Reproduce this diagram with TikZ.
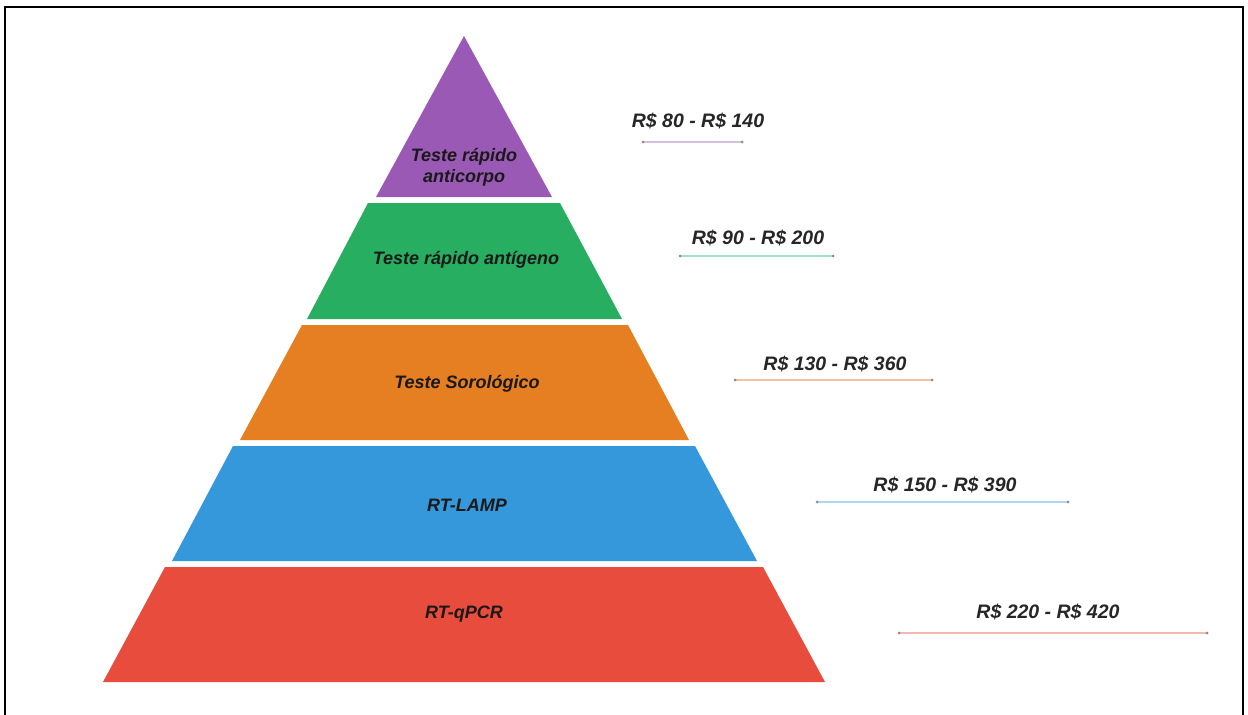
\documentclass[tikz,border=0pt]{standalone}
\usepackage{fontspec}
\setmainfont{Liberation Sans}
\usetikzlibrary{positioning}

\definecolor{tpurple}{HTML}{9B59B6}
\definecolor{tgreen}{HTML}{27AE60}
\definecolor{torange}{HTML}{E67E22}
\definecolor{tblue}{HTML}{3498DB}
\definecolor{tred}{HTML}{E74C3C}

\begin{document}
\begin{tikzpicture}[x=1pt, y=-1pt,
    tier/.style={
    font=\bfseries\itshape\fontsize{18}{20.5}\selectfont,
    text=black!90,
    align=center,
    anchor=base,
    inner sep=0pt},
    price/.style={
    font=\bfseries\itshape\fontsize{19.5}{22}\selectfont,
    text=black!85,
    anchor=base,
    inner sep=0pt},
    pricebar/.style={line width=1.8pt},
    bartip/.style={circle, fill=black!45, inner sep=0pt, minimum size=3pt}]

    \useasboundingbox (0,0) rectangle (1248,715);
    \fill[white] (0,0) rectangle (1248,715);
    \draw[line width=2pt] (5,716) -- (5,7) -- (1243,7) -- (1243,716);

    % pyramid bands
    \fill[tpurple] (464,36) -- (552,197) -- (376,197) -- cycle;
    \fill[tgreen] (368,203) -- (560,203) -- (622,319) -- (307,319) -- cycle;
    \fill[torange] (302,325) -- (628,325) -- (689,440) -- (240,440) -- cycle;
    \fill[tblue] (233,446) -- (695,446) -- (757,561) -- (172,561) -- cycle;
    \fill[tred] (165,567) -- (763,567) -- (825,682) -- (103,682) -- cycle;

    \node[tier] (anticorpo) at (464,182) {Teste rápido\\anticorpo};
    \node[tier] (antigeno) at (466,264) {Teste rápido antígeno};
    \node[tier] (sorologico) at (467,388) {Teste Sorológico};
    \node[tier] (lamp) at (467,511) {RT-LAMP};
    \node[tier] (qpcr) at (464,618) {RT-qPCR};

    % price ranges
    \coordinate (a1) at (643,142);
    \coordinate (a2) at (742,142);
    \coordinate (b1) at (680,256);
    \coordinate (b2) at (833,256);
    \coordinate (c1) at (735,380);
    \coordinate (c2) at (932,380);
    \coordinate (d1) at (817,502);
    \coordinate (d2) at (1068,502);
    \coordinate (e1) at (899,633);
    \coordinate (e2) at (1207,633);

    \draw[pricebar, tpurple!40] (a1) -- (a2);
    \draw[pricebar, tgreen!40] (b1) -- (b2);
    \draw[pricebar, torange!45] (c1) -- (c2);
    \draw[pricebar, tblue!40] (d1) -- (d2);
    \draw[pricebar, tred!40] (e1) -- (e2);

    \node[bartip] at (a1) {}; \node[bartip] at (a2) {};
    \node[bartip] at (b1) {}; \node[bartip] at (b2) {};
    \node[bartip] at (c1) {}; \node[bartip] at (c2) {};
    \node[bartip] at (d1) {}; \node[bartip] at (d2) {};
    \node[bartip] at (e1) {}; \node[bartip] at (e2) {};

    \node[price] (pa) at (698,127) {R\$ 80 - R\$ 140};
    \node[price] (pb) at (758,244) {R\$ 90 - R\$ 200};
    \node[price] (pc) at (835,370) {R\$ 130 - R\$ 360};
    \node[price] (pd) at (945,491) {R\$ 150 - R\$ 390};
    \node[price] (pe) at (1048,618) {R\$ 220 - R\$ 420};
\end{tikzpicture}
\end{document}
